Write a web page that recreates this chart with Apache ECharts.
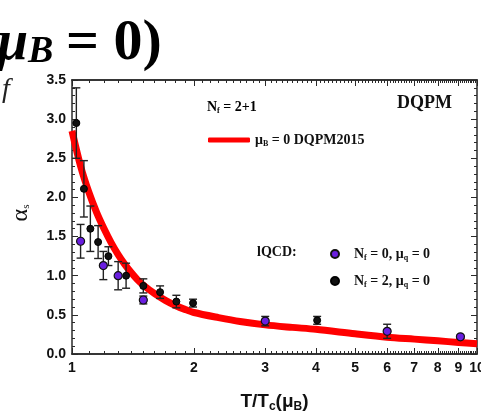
<!DOCTYPE html>
<html><head><meta charset="utf-8">
<script src="https://cdn.jsdelivr.net/npm/echarts@6/dist/echarts.min.js"></script>
<style>html,body{margin:0;padding:0;background:#fff}#c{width:481px;height:416px}</style>
</head><body><div id="c"></div>
<script>
// ---- data ----
const curveT = [1.0,1.05,1.1,1.15,1.2,1.25,1.3,1.35,1.4,1.45,1.5,1.6,1.7,1.8,1.9,2.0,2.3,2.6,3.0,3.5,4.0,5.0,6.0,7.0,8.0,9.0,10.0];
const curveAlpha = [2.85,2.40,2.07,1.81,1.60,1.42,1.27,1.145,1.04,0.95,0.88,0.77,0.685,0.62,0.57,0.53,0.465,0.415,0.372,0.34,0.315,0.258,0.215,0.19,0.168,0.148,0.13];
const nf0T = [1.05,1.195,1.30,1.50,3.0,6.0,9.1];
const nf0Alpha = [1.44,1.13,1.00,0.69,0.42,0.29,0.22];
const nf0Err = [0.215,0.18,0.18,0.05,0.06,0.09,0.02];
const nf2T = [1.025,1.07,1.11,1.16,1.23,1.36,1.50,1.65,1.81,1.99,4.03];
const nf2Alpha = [2.95,2.11,1.60,1.43,1.25,1.00,0.87,0.79,0.67,0.65,0.43];
const nf2Err = [0.45,0.36,0.29,0.21,0.12,0.16,0.09,0.08,0.08,0.05,0.05];
const xTickLabels = [1,2,3,4,5,6,7,8,9,10];
const xMinorStep = 0.1;
const yMin = 0, yMax = 3.5, yStep = 0.5;

// ---- helpers ----
const lg = v => Math.log10(v);
const xMinor = [];
for (let k = 1; k < 10; k++) for (let j = 1; j < 10; j++) xMinor.push(lg(k + j * xMinorStep));
const curveData = curveT.map((t, i) => [lg(t), curveAlpha[i]]);
const nf0Data = nf0T.map((t, i) => [lg(t), nf0Alpha[i]]);
const nf2Data = nf2T.map((t, i) => [lg(t), nf2Alpha[i]]);
const nf0ErrData = nf0T.map((t, i) => [lg(t), nf0Alpha[i] - nf0Err[i], nf0Alpha[i] + nf0Err[i]]);
const nf2ErrData = nf2T.map((t, i) => [lg(t), nf2Alpha[i] - nf2Err[i], nf2Alpha[i] + nf2Err[i]]);

const AX = '#2a2a2a';
const SERIF = '"Liberation Serif","Times New Roman",serif';
const SANS = '"Liberation Sans",Arial,sans-serif';

function errRender(params, api) {
  const x = api.value(0);
  const lo = api.coord([x, api.value(1)]);
  const hi = api.coord([x, api.value(2)]);
  const w = 4;
  const st = { stroke: '#222', lineWidth: 1.4 };
  return { type: 'group', children: [
    { type: 'line', shape: { x1: lo[0], y1: lo[1], x2: hi[0], y2: hi[1] }, style: st },
    { type: 'line', shape: { x1: lo[0] - w, y1: lo[1], x2: lo[0] + w, y2: lo[1] }, style: st },
    { type: 'line', shape: { x1: hi[0] - w, y1: hi[1], x2: hi[0] + w, y2: hi[1] }, style: st }
  ]};
}

const xBase = (pos, ticks, len, labels) => ({
  type: 'value', position: pos, min: 0, max: 1, gridIndex: 0,
  axisLine: { show: true, onZero: false, lineStyle: { color: AX, width: 1.5 } },
  axisTick: { show: true, inside: true, length: len, customValues: ticks, lineStyle: { color: AX, width: 1 } },
  axisLabel: labels ? { show: true, customValues: xTickLabels.map(lg), formatter: v => String(Math.round(Math.pow(10, v))),
    fontFamily: SANS, fontWeight: 'bold', fontSize: 14, color: '#111', margin: 7, hideOverlap: false } : { show: false },
  splitLine: { show: false }
});

const yBase = (pos, labels) => ({
  type: 'value', position: pos, min: yMin, max: yMax, interval: yStep,
  axisLine: { show: true, onZero: false, lineStyle: { color: AX, width: 1.5 } },
  axisTick: { show: true, inside: true, length: 6, lineStyle: { color: AX, width: 1 } },
  minorTick: { show: true, splitNumber: 5, length: 3, lineStyle: { color: AX, width: 1 } },
  axisLabel: labels ? { show: true, formatter: v => v.toFixed(1), fontFamily: SANS, fontWeight: 'bold', fontSize: 14, color: '#111', margin: 6 } : { show: false },
  splitLine: { show: false }
});

const xA0 = xBase('bottom', xTickLabels.map(lg), 6, true);
xA0.name = '{t|T/T}{s|c}{p|(μ}{s|B}{p|)}';
xA0.nameLocation = 'middle';
xA0.nameGap = 37;
xA0.nameTextStyle = { rich: {
  t: { fontFamily: SANS, fontWeight: 'bold', fontSize: 19, color: '#111', lineHeight: 22 },
  p: { fontFamily: SANS, fontWeight: 'bold', fontSize: 19, color: '#111', lineHeight: 22 },
  s: { fontFamily: SANS, fontWeight: 'bold', fontSize: 12, color: '#111', lineHeight: 12, padding: [9, 0, 0, 0] }
}};

const sub = { fontFamily: SERIF, fontWeight: 'bold', fontSize: 8, color: '#111', lineHeight: 8, padding: [8, 0, 0, 0] };
const main = { fontFamily: SERIF, fontWeight: 'bold', fontSize: 14, color: '#111', lineHeight: 16 };

const option = {
  animation: false,
  backgroundColor: '#fff',
  grid: { left: 72, right: 4, top: 80, bottom: 62, containLabel: false, outerBoundsMode: 'none' },
  xAxis: [
    xA0,
    xBase('bottom', xMinor, 3, false),
    xBase('top', xTickLabels.map(lg), 6, false),
    xBase('top', xMinor, 3, false)
  ],
  yAxis: [ yBase('left', true), yBase('right', false) ],
  legend: [
    { data: ['DQPM2015'], left: 203, top: 127, icon: 'roundRect', itemWidth: 42, itemHeight: 5,
      formatter: () => '{m|μ}{s|B}{m| = 0 DQPM2015}', textStyle: { rich: { m: main, s: sub } } },
    { data: ['Nf0', 'Nf2'], orient: 'vertical', left: 325, top: 241, icon: 'circle', itemWidth: 8, itemHeight: 8, itemGap: 11,
      formatter: n => n === 'Nf0' ? '{g|N}{s|f}{m| = 0, μ}{s|q}{m| = 0}' : '{g|N}{s|f}{m| = 2, μ}{s|q}{m| = 0}',
      textStyle: { rich: { g: Object.assign({}, main, { padding: [0, 0, 0, 10] }), m: main, s: sub } } }
  ],
  graphic: [
    { type: 'text', x: -3, y: 45, style: { text: 'μ', font: 'italic bold 56px ' + SERIF, fill: '#000', verticalAlign: 'middle' } },
    { type: 'text', x: 28, y: 52, style: { text: 'B', font: 'italic bold 38px ' + SERIF, fill: '#000', verticalAlign: 'middle' } },
    { type: 'text', x: 66, y: 44, style: { text: '= 0)', font: 'bold 58px ' + SERIF, fill: '#000', verticalAlign: 'middle' } },
    { type: 'text', x: 2, y: 90, style: { text: 'f', font: 'italic 28px ' + SERIF, fill: '#222', verticalAlign: 'middle' } },
    { type: 'text', x: 21, y: 213, rotation: Math.PI / 2, style: { text: '{a|α}{s|s}', align: 'center', verticalAlign: 'middle',
      rich: { a: { fontFamily: SERIF, fontSize: 24, fill: '#111', color: '#111', lineHeight: 24 },
              s: { fontFamily: SERIF, fontSize: 11, fill: '#111', color: '#111', lineHeight: 11, padding: [11, 0, 0, 0] } } } },
    { type: 'text', x: 207, y: 107, style: { text: '{m|N}{s|f}{m| = 2+1}', verticalAlign: 'middle', rich: { m: main, s: sub } } },
    { type: 'text', x: 397, y: 103, style: { text: 'DQPM', font: 'bold 18px ' + SERIF, fill: '#111', verticalAlign: 'middle' } },
    { type: 'text', x: 257, y: 252, style: { text: 'lQCD:', font: 'bold 14px ' + SERIF, fill: '#111', verticalAlign: 'middle' } }
  ],
  series: [
    { name: 'DQPM2015', type: 'line', data: curveData, smooth: 0.3, showSymbol: false, z: 2,
      lineStyle: { color: '#ff0000', width: 7 }, itemStyle: { color: '#ff0000' } },
    { name: 'err0', type: 'custom', data: nf0ErrData, renderItem: errRender, z: 3 },
    { name: 'err2', type: 'custom', data: nf2ErrData, renderItem: errRender, z: 3 },
    { name: 'Nf2', type: 'scatter', data: nf2Data, symbolSize: 7, z: 4,
      itemStyle: { color: '#111', borderColor: '#000', borderWidth: 1, opacity: 1 } },
    { name: 'Nf0', type: 'scatter', data: nf0Data, symbolSize: 8, z: 5,
      itemStyle: { color: '#6a1ee0', borderColor: '#111', borderWidth: 1.2, opacity: 1 } }
  ]
};
const chart = echarts.init(document.getElementById('c'), null, { renderer: 'canvas' });
chart.setOption(option);
</script>
</body></html>
